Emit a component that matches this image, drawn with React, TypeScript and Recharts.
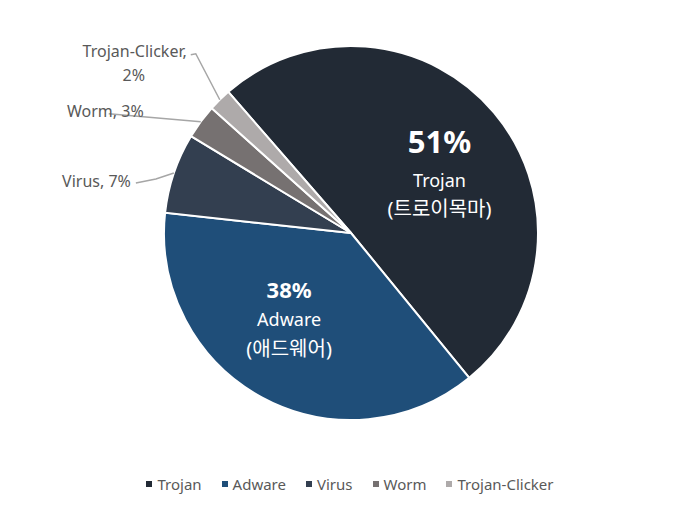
import { PieChart, Pie, Cell, Legend } from 'recharts'

const categories = ['Trojan', 'Adware', 'Virus', 'Worm', 'Trojan-Clicker']
const shares = [51, 38, 7, 3, 2]
const koreanNames = ['트로이목마', '애드웨어', '', '', '']
const colors = ['#222A35', '#1F4E79', '#333F50', '#767171', '#AEAAAA']

const FONT = '"Noto Sans", "Noto Sans CJK KR", sans-serif'
const RAD = Math.PI / 180

const data = categories.map((name, i) => ({ name, value: shares[i], kr: koreanNames[i] }))

function polar(cx: number, cy: number, r: number, angle: number) {
  return { x: cx + r * Math.cos(-angle * RAD), y: cy + r * Math.sin(-angle * RAD) }
}

function renderLabel(props: any) {
  const { cx, cy, midAngle, outerRadius, index, payload } = props
  const name = categories[index]
  const pct = `${shares[index]}%`

  if (index === 0 || index === 1) {
    const p = polar(cx, cy, outerRadius * 0.57, midAngle)
    const big = index === 0
    const ax = p.x + (big ? 7 : -11)
    const ys = big ? [-23, 16, 44] : [-38, -8, 22]
    return (
      <g fill="#fff" textAnchor="middle" fontFamily={FONT}>
        <text x={ax} y={p.y + ys[0]} dominantBaseline="central" fontSize={big ? 31 : 22} fontWeight={700} fill="#fff">
          {pct}
        </text>
        <text x={ax} y={p.y + ys[1]} dominantBaseline="central" fontSize={18} fill="#fff">
          {name}
        </text>
        <text x={ax} y={p.y + ys[2]} dominantBaseline="central" fontSize={20} fill="#fff">
          ({payload.kr})
        </text>
      </g>
    )
  }

  const e = polar(cx, cy, outerRadius, midAngle)
  const lineProps = { fill: 'none', stroke: '#A6A6A6', strokeWidth: 1.5 }
  const textProps = { fill: '#595959', fontSize: 16, fontFamily: FONT, dominantBaseline: 'central' as const }

  if (index === 2) {
    return (
      <g>
        <polyline points={`${e.x},${e.y} ${e.x - 18},${e.y + 6} ${e.x - 38},${e.y + 10}`} {...lineProps} />
        <text x={e.x - 43} y={e.y + 8} textAnchor="end" {...textProps}>{`${name}, ${pct}`}</text>
      </g>
    )
  }
  if (index === 3) {
    return (
      <g>
        <polyline points={`${e.x},${e.y} ${e.x - 92},${e.y - 8}`} {...lineProps} />
        <text x={e.x - 57} y={e.y - 11} textAnchor="end" {...textProps}>{`${name}, ${pct}`}</text>
      </g>
    )
  }
  return (
    <g>
      <polyline points={`${e.x},${e.y} ${e.x - 24},${e.y - 46} ${e.x - 29},${e.y - 45}`} {...lineProps} />
      <text x={e.x - 33} y={e.y - 49} textAnchor="end" {...textProps}>{`${name},`}</text>
      <text x={e.x - 86} y={e.y - 25} textAnchor="middle" {...textProps}>{pct}</text>
    </g>
  )
}

function renderLegend() {
  return (
    <div
      style={{
        display: 'flex',
        justifyContent: 'center',
        gap: 20,
        fontFamily: FONT,
        fontSize: 15,
        color: '#595959',
      }}
    >
      {categories.map((c, i) => (
        <span key={c} style={{ display: 'flex', alignItems: 'center' }}>
          <span style={{ display: 'inline-block', width: 6, height: 6, background: colors[i], marginRight: 5 }} />
          {c}
        </span>
      ))}
    </div>
  )
}

export default function App() {
  return (
    <div style={{ position: 'absolute', left: 0, top: 0, width: 700, height: 505, background: '#fff' }}>
      <PieChart width={700} height={505} margin={{ top: 0, right: 0, bottom: 0, left: 0 }}>
        <Pie
          data={data}
          dataKey="value"
          nameKey="name"
          cx={351}
          cy={233}
          outerRadius={187}
          startAngle={131}
          endAngle={-229}
          stroke="#fff"
          strokeWidth={2}
          label={renderLabel}
          labelLine={false}
          isAnimationActive={false}
        >
          {data.map((d, i) => (
            <Cell key={d.name} fill={colors[i]} />
          ))}
        </Pie>
        <Legend content={renderLegend} wrapperStyle={{ top: 474, left: 0, width: 700 }} />
      </PieChart>
    </div>
  )
}
